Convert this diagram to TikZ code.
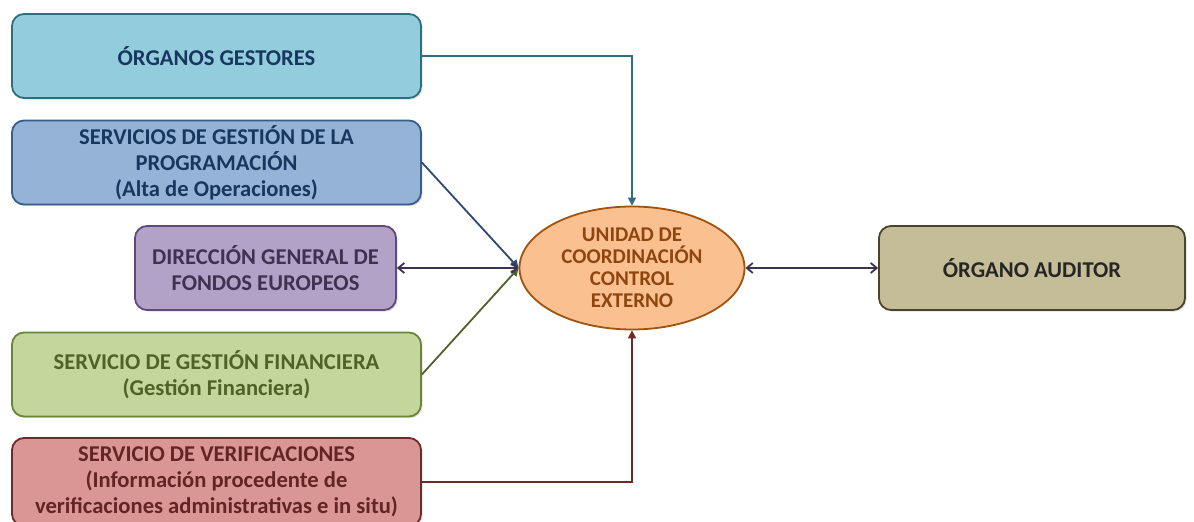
\documentclass[tikz,border=0pt]{standalone}
\usepackage{fontspec}
\setmainfont{Carlito}
\usepackage{xcolor}
\usetikzlibrary{arrows.meta}
\usetikzlibrary{shapes.geometric}
\usetikzlibrary{shadows}

\definecolor{ogfill}{HTML}{93CDDD}
\definecolor{ogline}{HTML}{2E6E7E}
\definecolor{sgfill}{HTML}{95B3D7}
\definecolor{sgline}{HTML}{385D8A}
\definecolor{navytext}{HTML}{17375E}
\definecolor{dgfill}{HTML}{B3A2C7}
\definecolor{dgline}{HTML}{5F497A}
\definecolor{dgtext}{HTML}{3F3151}
\definecolor{sffill}{HTML}{C3D69B}
\definecolor{sfline}{HTML}{6A8536}
\definecolor{sftext}{HTML}{4F6228}
\definecolor{svfill}{HTML}{D99694}
\definecolor{svline}{HTML}{6E2A28}
\definecolor{svtext}{HTML}{632423}
\definecolor{ucfill}{HTML}{FAC090}
\definecolor{ucline}{HTML}{A0520F}
\definecolor{uctext}{HTML}{8E4510}
\definecolor{aufill}{HTML}{C4BD97}
\definecolor{auline}{HTML}{4A452A}

\begin{document}
\begin{tikzpicture}[x=0.5pt, y=-0.5pt,
    box/.style={draw, rounded corners=6pt, line width=0.9pt, align=center,
        minimum width=204.5pt, minimum height=42pt, inner sep=2pt,
        font=\bfseries\fontsize{11.3}{13}\selectfont,
        drop shadow={shadow xshift=0.8pt, shadow yshift=-0.8pt, opacity=0.25}},
    link/.style={line width=0.9pt, -{Triangle[length=4pt, width=4pt]}},
    twoway/.style={line width=0.9pt, {Straight Barb[length=3pt, width=5pt]}-{Straight Barb[length=3pt, width=5pt]}}]
    \useasboundingbox (0,0) rectangle (1194,522);

    % Left column
    \node[box, fill=ogfill, draw=ogline, text=navytext] (og) at (216.5,56) {ÓRGANOS GESTORES};
    \node[box, fill=sgfill, draw=sgline, text=navytext] (sg) at (216.5,162.5)
        {SERVICIOS DE GESTIÓN DE LA\\PROGRAMACIÓN\\(Alta de Operaciones)};
    \node[box, fill=dgfill, draw=dgline, text=dgtext, minimum width=130.5pt] (dg) at (265.5,268)
        {DIRECCIÓN GENERAL DE\\FONDOS EUROPEOS};
    \node[box, fill=sffill, draw=sfline, text=sftext] (sf) at (216.5,374.5)
        {SERVICIO DE GESTIÓN FINANCIERA\\(Gestión Financiera)};
    \node[box, fill=svfill, draw=svline, text=svtext, minimum height=44pt] (sv) at (216.5,482)
        {SERVICIO DE VERIFICACIONES\\(Información procedente de\\verificaciones administrativas e in situ)};

    % Centre and right
    \node[ellipse, draw=ucline, fill=ucfill, line width=0.9pt, inner sep=0pt,
        minimum width=112.5pt, minimum height=61.5pt, align=center, text=uctext,
        font=\bfseries\fontsize{10.5}{11}\selectfont] (uc) at (632,268)
        {UNIDAD DE\\COORDINACIÓN\\CONTROL\\EXTERNO};
    \node[box, fill=aufill, draw=auline, text=black!85, minimum width=153pt] (au) at (1032,268)
        {ÓRGANO AUDITOR};

    % Connectors
    \draw[link, draw=ogline] (og.east) -| (uc.north);
    \draw[link, draw=sgline!80!black] (sg.east) -- (uc.west);
    \draw[link, draw=sftext] (sf.east) -- (uc.west);
    \draw[link, draw=svline] (sv.east) -| (uc.south);
    \draw[twoway, draw=dgtext] (dg.east) -- (uc.west);
    \draw[twoway, draw=dgtext] (uc.east) -- (au.west);
\end{tikzpicture}
\end{document}
